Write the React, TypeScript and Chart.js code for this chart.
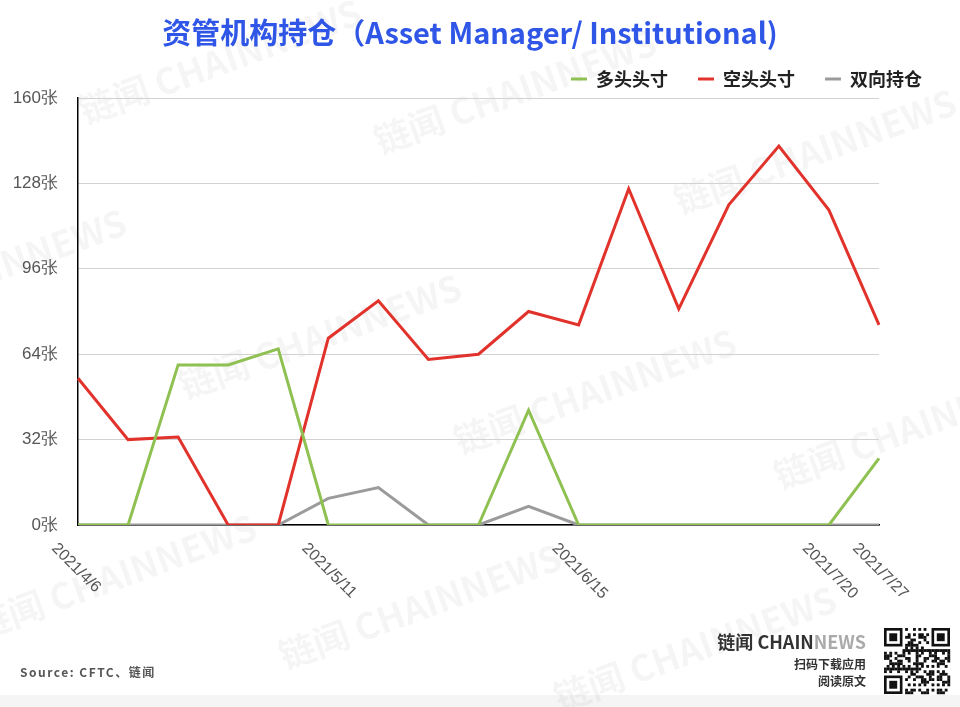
import React, { useEffect, useRef } from "react";
import { Chart, registerables } from "chart.js";

Chart.register(...registerables);

const categories = [
  "2021/4/6", "2021/4/13", "2021/4/20", "2021/4/27", "2021/5/4", "2021/5/11",
  "2021/5/18", "2021/5/25", "2021/6/1", "2021/6/8", "2021/6/15", "2021/6/22",
  "2021/6/29", "2021/7/6", "2021/7/13", "2021/7/20", "2021/7/27",
];
const shownTickLabels = ["2021/4/6", "2021/5/11", "2021/6/15", "2021/7/20", "2021/7/27"];
const longPositions = [0, 0, 60, 60, 66, 0, 0, 0, 0, 43, 0, 0, 0, 0, 0, 0, 25];
const shortPositions = [55, 32, 33, 0, 0, 70, 84, 62, 64, 80, 75, 126, 81, 120, 142, 118, 75];
const spreadPositions = [0, 0, 0, 0, 0, 10, 14, 0, 0, 7, 0, 0, 0, 0, 0, 0, 0];
const seriesNames = ["多头头寸", "空头头寸", "双向持仓"];
const yMax = 160;
const yStep = 32;
const yUnit = "张";
const titleText = "资管机构持仓（Asset Manager/ Institutional)";
const sourceText = "Source: CFTC、链闻";

const COLORS = ["#8fc152", "#e1322b", "#9b9b9b"];
const CJK = '"Noto Sans CJK SC", "Noto Sans", sans-serif';
const LATIN = '"Liberation Sans", Arial, Helvetica, sans-serif';

const watermarks: [number, number][] = [
  [85, 125], [380, 155], [680, 215], [-150, 335], [185, 400],
  [460, 455], [780, 490], [-20, 640], [285, 670], [560, 712],
];

function drawQR(ctx: CanvasRenderingContext2D, x0: number, y0: number, size: number) {
  const n = 25;
  const c = size / n;
  ctx.fillStyle = "#111";
  const finder = (fx: number, fy: number) => {
    ctx.fillRect(x0 + fx * c, y0 + fy * c, 7 * c, 7 * c);
    ctx.fillStyle = "#fff";
    ctx.fillRect(x0 + (fx + 1) * c, y0 + (fy + 1) * c, 5 * c, 5 * c);
    ctx.fillStyle = "#111";
    ctx.fillRect(x0 + (fx + 2) * c, y0 + (fy + 2) * c, 3 * c, 3 * c);
  };
  for (let i = 0; i < n; i++) {
    for (let j = 0; j < n; j++) {
      const inFinder = (i < 8 && j < 8) || (i < 8 && j >= n - 8) || (i >= n - 8 && j < 8);
      if (inFinder) continue;
      const v = (i * 31 + j * 17 + ((i * j) % 7) * 5) % 11;
      if (v < 5) ctx.fillRect(x0 + j * c, y0 + i * c, c + 0.2, c + 0.2);
    }
  }
  finder(0, 0);
  finder(n - 7, 0);
  finder(0, n - 7);
}

const decorPlugin = {
  id: "decor",
  beforeDraw(chart: any) {
    const ctx = chart.ctx as CanvasRenderingContext2D;
    ctx.save();
    ctx.fillStyle = "#ffffff";
    ctx.fillRect(0, 0, chart.width, chart.height);
    ctx.fillStyle = "#f5f5f5";
    ctx.fillRect(0, 695, chart.width, chart.height - 695);
    ctx.fillStyle = "rgba(0,0,0,0.04)";
    ctx.font = `bold 36px ${CJK}`;
    ctx.textAlign = "left";
    ctx.textBaseline = "alphabetic";
    for (const [wx, wy] of watermarks) {
      ctx.save();
      ctx.translate(wx, wy);
      ctx.rotate((-20 * Math.PI) / 180);
      ctx.fillText("链闻 CHAINNEWS", 0, 0);
      ctx.restore();
    }
    ctx.restore();
  },
  afterDraw(chart: any) {
    const ctx = chart.ctx as CanvasRenderingContext2D;
    const xScale = chart.scales.x;
    ctx.save();
    // title
    ctx.fillStyle = "#2f56e6";
    ctx.font = `bold 29px ${CJK}`;
    ctx.textAlign = "center";
    ctx.textBaseline = "middle";
    ctx.fillText(titleText, 470, 33);

    // x tick labels (rotated)
    ctx.fillStyle = "#555555";
    ctx.font = `16px ${LATIN}`;
    ctx.textAlign = "left";
    ctx.textBaseline = "middle";
    categories.forEach((label, i) => {
      if (!shownTickLabels.includes(label)) return;
      const x = xScale.getPixelForValue(i);
      ctx.save();
      ctx.translate(x - 24, 546);
      ctx.rotate(Math.PI / 4);
      ctx.fillText(label, 0, 0);
      ctx.restore();
    });

    // source
    ctx.fillStyle = "#555555";
    ctx.font = `bold 12px ${CJK}`;
    (ctx as any).letterSpacing = "1.5px";
    ctx.textAlign = "left";
    ctx.textBaseline = "middle";
    ctx.fillText(sourceText, 20, 672);
    (ctx as any).letterSpacing = "0px";

    // logo block
    ctx.textAlign = "right";
    ctx.font = `bold 18px ${CJK}`;
    const newsW = ctx.measureText("NEWS").width;
    ctx.fillStyle = "#aaaaaa";
    ctx.fillText("NEWS", 866, 642);
    ctx.fillStyle = "#333333";
    ctx.fillText("链闻 CHAIN", 866 - newsW, 642);
    ctx.font = `bold 12px ${CJK}`;
    ctx.fillText("扫码下载应用", 866, 664);
    ctx.fillText("阅读原文", 866, 681);
    drawQR(ctx, 884, 628, 66);
    ctx.restore();
  },
};

export default function App() {
  const ref = useRef<HTMLCanvasElement | null>(null);
  useEffect(() => {
    if (!ref.current) return;
    const chart = new Chart(ref.current, {
      type: "line",
      data: {
        labels: categories,
        datasets: [longPositions, shortPositions, spreadPositions].map((d, i) => ({
          label: seriesNames[i],
          data: d,
          borderColor: COLORS[i],
          backgroundColor: COLORS[i],
          borderWidth: 3,
          pointRadius: 0,
          tension: 0,
          fill: false,
          yAxisID: "y",
        })),
      },
      options: {
        animation: false,
        responsive: false,
        devicePixelRatio: 1,
        layout: { padding: { top: 40, right: 8, left: 0, bottom: 0 } },
        plugins: {
          tooltip: { enabled: false },
          title: { display: false },
          legend: {
            display: true,
            position: "top",
            align: "end",
            labels: {
              boxWidth: 16,
              boxHeight: 3,
              padding: 30,
              color: "#222222",
              font: { size: 18, weight: "bold", family: CJK },
              generateLabels: (chart: any) =>
                Chart.defaults.plugins.legend.labels
                  .generateLabels(chart)
                  .map((l: any) => ({ ...l, lineWidth: 0 })),
            },
          },
        },
        scales: {
          x: {
            type: "category",
            offset: false,
            grid: { display: false },
            border: { display: true, color: "#000000", width: 1.5 },
            ticks: { display: false },
            afterFit: (s: any) => {
              s.height = 182;
            },
          },
          y: {
            min: 0,
            max: yMax,
            border: { display: true, color: "#000000", width: 1.5 },
            grid: { color: "#d2d2d2", lineWidth: 1, drawTicks: false },
            ticks: {
              stepSize: yStep,
              padding: 20,
              color: "#555555",
              font: { size: 17, family: LATIN },
              callback: (v: any) => `${v}${yUnit}`,
            },
            afterFit: (s: any) => {
              s.width = 78;
            },
          },
          y2: {
            type: "linear",
            position: "right",
            display: true,
            grid: { display: false },
            border: { display: false },
            ticks: { display: false },
            afterFit: (s: any) => {
              s.width = 73;
            },
          },
        },
      } as any,
      plugins: [decorPlugin],
    });
    return () => chart.destroy();
  }, []);
  return (
    <div style={{ position: "absolute", left: 0, top: 0, width: 960, height: 707 }}>
      <canvas ref={ref} width={960} height={707} style={{ width: 960, height: 707, display: "block" }} />
    </div>
  );
}
